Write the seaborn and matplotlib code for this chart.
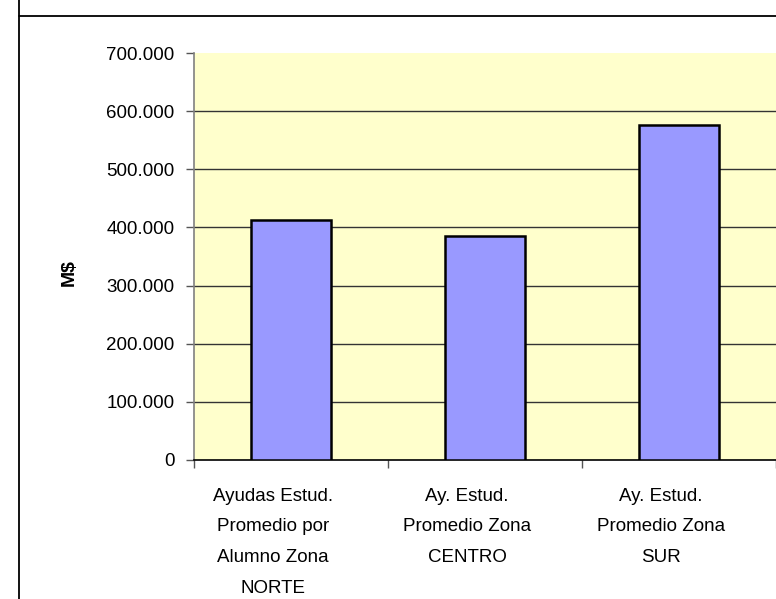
import matplotlib
matplotlib.use("Agg")
import matplotlib.pyplot as plt
import matplotlib.transforms as mtransforms
import seaborn as sns
from matplotlib.lines import Line2D
from matplotlib.ticker import FuncFormatter, FixedLocator

categorias = [
    "Ayudas Estud.\nPromedio por\nAlumno Zona\nNORTE",
    "Ay. Estud.\nPromedio Zona\nCENTRO",
    "Ay. Estud.\nPromedio Zona\nSUR",
]
montos = [413000, 386000, 576000]
yticks = [0, 100000, 200000, 300000, 400000, 500000, 600000, 700000]

sns.set_style("white")
plt.rcParams["font.family"] = ["Liberation Sans", "DejaVu Sans"]
plt.rcParams["text.color"] = "black"
plt.rcParams["xtick.color"] = "black"
plt.rcParams["ytick.color"] = "black"
plt.rcParams["axes.labelcolor"] = "black"

fig = plt.figure(figsize=(7.76, 5.99), dpi=100)
ax = fig.add_axes([194 / 776, 139 / 599, 582 / 776, 407 / 599])
ax.set_facecolor("#FFFFCC")

sns.barplot(x=list(range(len(categorias))), y=montos, color="#9999FF", saturation=1,
            width=0.41, edgecolor="black", linewidth=1.8, ax=ax, zorder=3)

ax.set_xlim(-0.5, 2.5)
ax.set_ylim(0, 700000)
ax.set_yticks(yticks)
ax.yaxis.set_major_formatter(FuncFormatter(lambda v, p: f"{int(v):,}".replace(",", ".")))
for y in yticks[1:-1]:
    ax.axhline(y, color="#333333", lw=1.0, zorder=1)

# category boundaries get the tick marks, labels sit in between
ax.xaxis.set_major_locator(FixedLocator([-0.5, 0.5, 1.5, 2.5]))
ax.xaxis.set_minor_locator(FixedLocator([0, 1, 2]))
ax.set_xticklabels([], minor=False)
ax.set_xticklabels(categorias, minor=True, fontsize=13.5, linespacing=2.05)
ax.tick_params(axis="x", which="major", length=6, width=1, color="#555555", direction="out", bottom=True)
ax.tick_params(axis="x", which="minor", length=0, pad=20)
ax.tick_params(axis="y", length=6, width=1, color="#555555", direction="out", left=True,
               labelsize=13.5, pad=8)

# Excel draws the category labels a little left of centre
shift = mtransforms.ScaledTranslation(-18 / 100, 0, fig.dpi_scale_trans)
for lab in ax.get_xticklabels(minor=True):
    lab.set_transform(lab.get_transform() + shift)

for s in ["top", "right"]:
    ax.spines[s].set_visible(False)
ax.spines["left"].set_color("#808080")
ax.spines["left"].set_linewidth(1.2)
ax.spines["bottom"].set_color("black")
ax.spines["bottom"].set_linewidth(1.2)

ax.set_xlabel("")
ax.set_ylabel("M$", fontsize=14, fontweight="bold")
ax.yaxis.set_label_coords(-0.2, 0.46)

# outer chart frame
fig.add_artist(Line2D([18.5 / 776, 18.5 / 776], [0, 1], transform=fig.transFigure, color="black", lw=1.3))
fig.add_artist(Line2D([18.5 / 776, 1], [1 - 16 / 599, 1 - 16 / 599], transform=fig.transFigure, color="black", lw=1.3))

fig.savefig("out.png", dpi=100)
